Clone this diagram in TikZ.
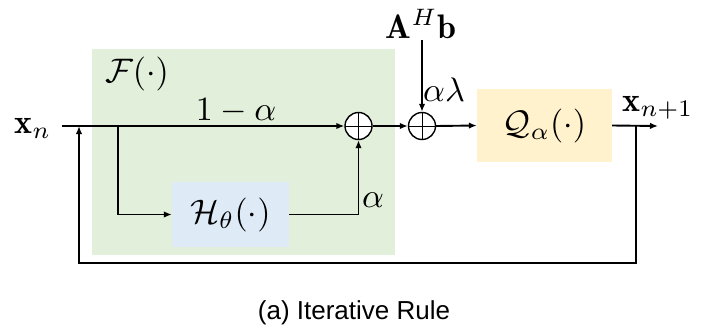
\documentclass[tikz,border=0pt]{standalone}
\usepackage{graphicx}
\usepackage{fontspec}
\newfontfamily\capfont{Liberation Sans}
\usetikzlibrary{arrows.meta}
\definecolor{greenbg}{RGB}{226,239,218}
\definecolor{bluebg}{RGB}{222,235,247}
\definecolor{yellowbg}{RGB}{255,242,204}
\newcommand{\mymath}[1]{\scalebox{3.4}{$#1$}}
\tikzset{
  arr/.style={line width=1.9pt,-{Latex[length=8pt,width=6.5pt]}},
  sumnode/.style={circle,draw,line width=1.4pt,fill=white,minimum size=27pt,inner sep=0pt,
    path picture={\draw[line width=1pt] (path picture bounding box.north) -- (path picture bounding box.south)
      (path picture bounding box.west) -- (path picture bounding box.east);}},
  blk/.style={draw=none},
  lbl/.style={inner sep=0pt}
}
\begin{document}
\begin{tikzpicture}[x=1pt,y=-1pt]
\useasboundingbox (0,0) rectangle (717,332);
\fill[greenbg] (92,49) rectangle (395,255);
\node[lbl] (F) at (137,74) {\mymath{\mathcal{F}(\cdot)}};
\node[blk,lbl,fill=bluebg,minimum width=117pt,minimum height=65pt] (H) at (230.5,214.5) {\mymath{\mathcal{H}_\theta(\cdot)}};
\node[blk,lbl,fill=yellowbg,minimum width=135pt,minimum height=73pt] (Q) at (544.5,125.5) {\mymath{\mathcal{Q}_\alpha(\cdot)}};
\node[sumnode] (s1) at (358.5,126) {};
\node[sumnode] (s2) at (422,126) {};
\node[lbl] (xn) at (33,128) {\mymath{\mathbf{x}_n}};
\node[lbl] (AHb) at (421,24) {\mymath{\mathbf{A}^H\mathbf{b}}};
\node[lbl] (xn1) at (658,108) {\mymath{\mathbf{x}_{n+1}}};
\node[lbl] (oma) at (236,111) {\mymath{1-\alpha}};
\node[lbl,anchor=west] (al) at (362,200) {\mymath{\alpha}};
\node[lbl,anchor=west] (al2) at (423,90) {\mymath{\alpha\lambda}};
\coordinate (start) at (62,126);
\coordinate (b1) at (118,126);
\coordinate (fb) at (79,126);
\coordinate (fbb) at (79,263);
\coordinate (out) at (636,126);
\coordinate (outb) at (636,263);
\coordinate (end) at (658,126);
\coordinate (top) at (422,40);
\draw[arr] (start) -- (s1.west);
\draw[arr] (b1) |- (H.west);
\draw[arr] (H.east) -| (s1.south);
\draw[arr] (s1.east) -- (s2.west);
\draw[arr] (top) -- (s2.north);
\draw[arr] (s2.east) -- (Q.west);
\draw[arr] (Q.east) -- (end);
\draw[arr] (out) -- (outb) -- (fbb) -- (fb);
\node[inner sep=0pt,font=\capfont\fontsize{26}{30}\selectfont] (cap) at (354,313) {(a) Iterative Rule};
\end{tikzpicture}
\end{document}
